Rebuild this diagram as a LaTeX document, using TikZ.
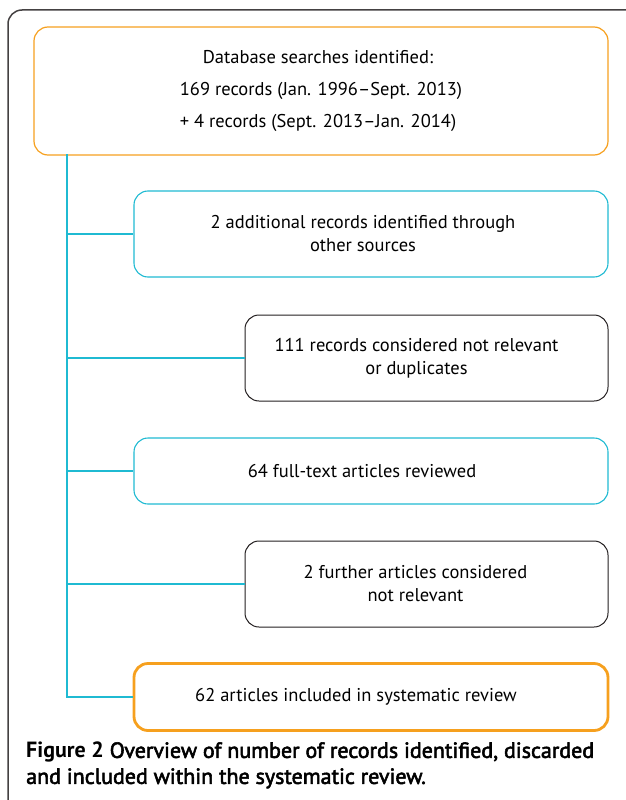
\documentclass[tikz,border=0pt]{standalone}
\usepackage{fontspec}
\setmainfont{PT Sans}
\newfontfamily\capfont[FakeBold=2.5]{PT Sans}
\usepackage{xcolor}
\usetikzlibrary{positioning}
\definecolor{boxorange}{HTML}{F6A01E}
\definecolor{boxcyan}{HTML}{1FBAD2}
\definecolor{boxdark}{HTML}{231F20}
% trailing space, pulls centred lines a little to the left
\newcommand{\tr}[1]{\hspace*{#1pt}}

\begin{document}
\begin{tikzpicture}[x=1pt,y=-1pt,
              box/.style={draw, rounded corners=14pt, align=center, inner sep=0pt,
                          font=\fontsize{18.5}{23}\selectfont},
              wide/.style={box, minimum width=474pt},
              narrow/.style={box, minimum width=363pt},
              link/.style={color=boxcyan, line width=1.6pt},
             ]
\useasboundingbox (0,0) rectangle (625,800);

% frame
\draw[boxdark!85, line width=1.5pt, rounded corners=14pt] (8,802) -- (8,10) -- (627,10);

\node[box, boxorange, line width=1.2pt, minimum width=574pt, minimum height=128pt, text=black] (search) at (321,91)
  {Database searches identified:\tr{6}\\[9pt] 169 records (Jan. 1996--Sept. 2013)\tr{6}\\[9pt] + 4 records (Sept. 2013--Jan. 2014)\tr{6}};
\node[wide, boxcyan, line width=1.1pt, minimum height=86pt, text=black] (other) at (371,234)
  {2 additional records identified through\tr{16}\\ other sources\tr{16}};
\node[narrow, boxdark, line width=1pt, minimum height=86pt, text=black] (dupl) at (426.5,358)
  {111 records considered not relevant\tr{20}\\ or duplicates\tr{20}};
\node[wide, boxcyan, line width=1.1pt, minimum height=66pt, text=black] (fulltext) at (371,471)
  {64 full-text articles reviewed\tr{18}};
\node[narrow, boxdark, line width=1pt, minimum height=86pt, text=black] (further) at (426.5,584)
  {2 further articles considered\tr{22}\\ not relevant\tr{22}};
\node[wide, boxorange, line width=2.8pt, minimum height=67pt, text=black] (included) at (371,697)
  {62 articles included in systematic review\tr{30}};

% connectors
\coordinate (trunk) at (67,154);
\draw[link] (trunk) |- (included.west);
\foreach \n in {other,dupl,fulltext,further}
  \draw[link] (trunk |- \n.west) -- (\n.west);

% caption
\node[anchor=north west, align=left, inner sep=0pt, font=\fontsize{22}{26}\selectfont] (caption) at (26,742)
  {\textbf{Figure 2} {\capfont Overview of number of records identified, discarded}\\
   {\capfont and included within the systematic review.}};
\end{tikzpicture}
\end{document}
